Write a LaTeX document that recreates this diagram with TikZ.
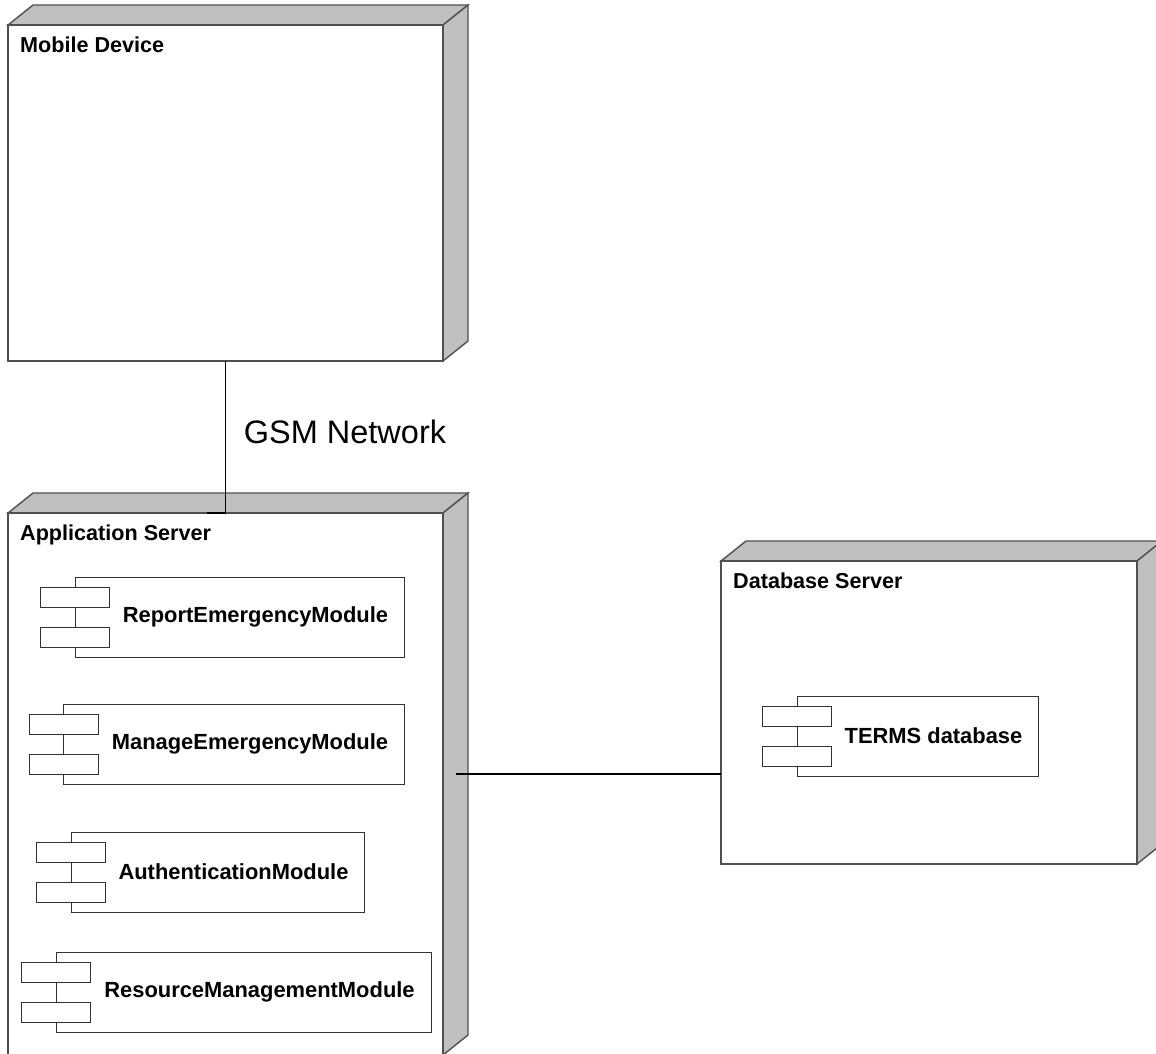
\documentclass[tikz,border=0pt]{standalone}
\usepackage{fontspec}
\setmainfont{Liberation Sans}
\usetikzlibrary{calc}
\definecolor{facegray}{HTML}{C0C0C0}
\definecolor{edgegray}{HTML}{505050}
\tikzset{
  front/.style={draw=edgegray, line width=1.4pt, fill=white, rectangle, inner sep=0pt, outer sep=0pt, anchor=north west},
  face/.style={draw=edgegray, line width=1.4pt, fill=facegray, line join=miter},
  nlabel/.style={anchor=base west, inner sep=0pt, font=\fontsize{21.6}{24}\selectfont\bfseries},
  compbox/.style={draw=black!80, line width=1pt, fill=white, rectangle, inner sep=0pt, outer sep=0pt, anchor=north west},
  comptext/.style={inner sep=0pt, font=\fontsize{21.9}{24}\selectfont\bfseries},
  conn/.style={draw=black, line width=1.4pt},
}
% #1 name, #2 x, #3 y, #4 width, #5 height, #6 label
\newcommand\devbox[6]{%
  \draw[face] (#2,#3) -- ++(25,-20) -- ++(#4,0) -- ++(-25,20) -- cycle;
  \draw[face] (#2+#4,#3) -- ++(25,-20) -- ++(0,#5) -- ++(-25,20) -- cycle;
  \node[front, minimum width=#4pt, minimum height=#5pt] (#1) at (#2,#3) {};
  \node[nlabel] (#1-t) at ($(#1.north west)+(12,27)$) {#6};
}
% #1 name, #2 x, #3 y, #4 width, #5 small-rect x, #6 label
\newcommand\compbox[6]{%
  \node[compbox, minimum width=#4pt, minimum height=80pt] (#1) at (#2,#3) {};
  \node[compbox, minimum width=69pt, minimum height=20pt] (#1-a) at (#5,#3+10) {};
  \node[compbox, minimum width=69pt, minimum height=20pt] (#1-b) at (#5,#3+50) {};
  \node[comptext] (#1-t) at ($(#1-a.east |- #1.center)!0.5!(#1.east)+(-1,0)$) {#6};
}
\begin{document}
\begin{tikzpicture}[x=1pt,y=-1pt]
\useasboundingbox (0,0) rectangle (1156,1053);
\fill[white] (0,0) rectangle (1156,1053);

% Mobile Device
\devbox{md}{8}{25}{435}{336}{Mobile Device}

% Application Server
\devbox{as}{8}{513}{435}{542}{Application Server}
\compbox{rep}{75}{577}{329}{40}{ReportEmergencyModule}
\compbox{man}{63}{704}{341}{29}{ManageEmergencyModule}
\compbox{aut}{71}{832}{293}{36}{AuthenticationModule}
\compbox{res}{56}{952}{375}{21}{ResourceManagementModule}

% Database Server
\devbox{ds}{721}{561}{416}{303}{Database Server}
\compbox{db}{797}{696}{241}{762}{TERMS database}

% GSM connector
\draw[conn] (md.south) -- (as.north) -- ++(-19,0);
\node[inner sep=0pt, font=\fontsize{32.5}{36}\selectfont] (gsm) at (345,432) {GSM Network};

% Database connector
\coordinate (c1) at (456,774);
\draw[conn] (c1) -- (c1 -| ds.west);
\end{tikzpicture}
\end{document}
